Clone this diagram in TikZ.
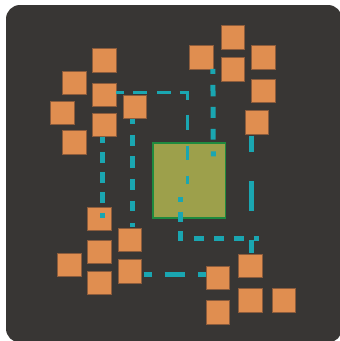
\documentclass[tikz,border=0pt]{standalone}
\usetikzlibrary{calc}
\definecolor{bgc}{HTML}{383634}
\definecolor{sqfill}{HTML}{E08E50}
\definecolor{sqline}{HTML}{8C5C3C}
\definecolor{grfill}{HTML}{9DA04B}
\definecolor{grline}{HTML}{1F8A3F}
\definecolor{tealc}{HTML}{1AA6B1}
\begin{document}
\begin{tikzpicture}[x=1pt,y=-1pt,
  sq/.style={draw=sqline,fill=sqfill,line width=0.8pt,minimum size=23.2pt,inner sep=0pt,outer sep=0pt},
  gbox/.style={draw=grline,fill=grfill,line width=1.5pt,minimum width=72.2pt,minimum height=74.9pt,inner sep=0pt,outer sep=0pt},
  edge/.style={draw=tealc,line width=5pt},
  thinedge/.style={draw=tealc,line width=3pt}]
\useasboundingbox (0,0) rectangle (340,341);
\clip (0,0) rectangle (340,341);
\fill[white] (0,0) rectangle (340,341);
\fill[bgc,rounded corners=14pt] (6,5) rectangle (342,342.5);

% central box
\node[gbox] (G) at (189.15,180.5) {};

% squares
\node[sq] (A) at (104.3,60.3) {};
\node[sq] (B) at (74.3,83) {};
\node[sq] (C) at (104.3,95) {};
\node[sq] (D) at (62.3,113) {};
\node[sq] (E) at (104.3,125) {};
\node[sq] (F) at (135,107) {};
\node[sq] (Gs) at (74.3,142.3) {};
\node[sq] (H) at (232.7,37.3) {};
\node[sq] (I) at (201.3,57.3) {};
\node[sq] (J) at (232.7,69.3) {};
\node[sq] (K) at (263.3,57.3) {};
\node[sq] (L) at (263.3,90.5) {};
\node[sq] (M) at (256.7,122.3) {};
\node[sq] (N) at (99.3,218.7) {};
\node[sq] (O) at (130,239.7) {};
\node[sq] (P) at (99.3,251.7) {};
\node[sq] (Q) at (69.3,265) {};
\node[sq] (R) at (130,271.3) {};
\node[sq] (S) at (99.3,283) {};
\node[sq] (T) at (250.3,265.7) {};
\node[sq] (U) at (218,277.5) {};
\node[sq] (V) at (250.3,300.3) {};
\node[sq] (W) at (283.7,300.3) {};
\node[sq] (X) at (218,312.3) {};

% free ends / bends
\coordinate (e1end) at (187.5,184.3);
\coordinate (e4end) at (213.3,156.7);
\coordinate (e6s) at (180,197.3);
\coordinate (e6a) at (180,238);
\coordinate (e6b) at (256.5,238);

% connectors
\draw[thinedge,dash pattern=on 7.7pt off 9.3pt on 14.4pt off 9.6pt on 14.4pt off 8.3pt on 15.5pt off 15pt on 15.7pt off 15.3pt on 14pt off 16pt on 8.3pt off 20pt]
  ($(C.east)+(0,-3)$) -| (e1end);
\draw[edge,dash pattern=on 6pt off 9.3pt on 10.7pt off 9.7pt on 10.6pt off 9.4pt on 10.6pt off 10pt on 5.4pt off 10pt]
  ($(E.south)+(-2.3,0)$) -- ($(N.center)+(2.7,0)$);
\draw[edge,dash pattern=on 5.3pt off 10.7pt on 11pt off 10.7pt on 11.6pt off 11pt on 10.7pt off 11pt on 10.7pt off 11.6pt on 4.4pt off 10pt]
  ($(F.south)+(-3,0)$) -- ($(O.north)+(2,0)$);
\draw[edge,dash pattern=on 5pt off 11pt on 11.4pt off 10.6pt on 11pt off 11pt on 10.7pt off 11.7pt on 5pt off 10pt]
  (I.south east) -- (e4end);
\draw[edge,dash pattern=on 16.7pt off 29pt on 29.3pt off 29pt on 13.7pt off 10pt]
  ($(M.south)+(-5.2,1.7)$) -- ($(T.north)+(1.2,0)$);
\draw[edge,dash pattern=on 5pt off 9.4pt on 10pt off 9.4pt on 10.1pt off 10.5pt on 10pt off 10.7pt on 9.3pt off 10pt on 10.7pt off 9.3pt on 6.2pt off 20pt]
  (e6s) -- (e6a) -- (e6b) -- (e6b |- T.north);
\draw[edge,dash pattern=on 8pt off 13pt on 20pt off 13.3pt on 7.7pt off 7pt]
  ($(R.east)+(2,2.9)$) -- ($(U.west)+(0,-3.3)$);
\end{tikzpicture}
\end{document}
